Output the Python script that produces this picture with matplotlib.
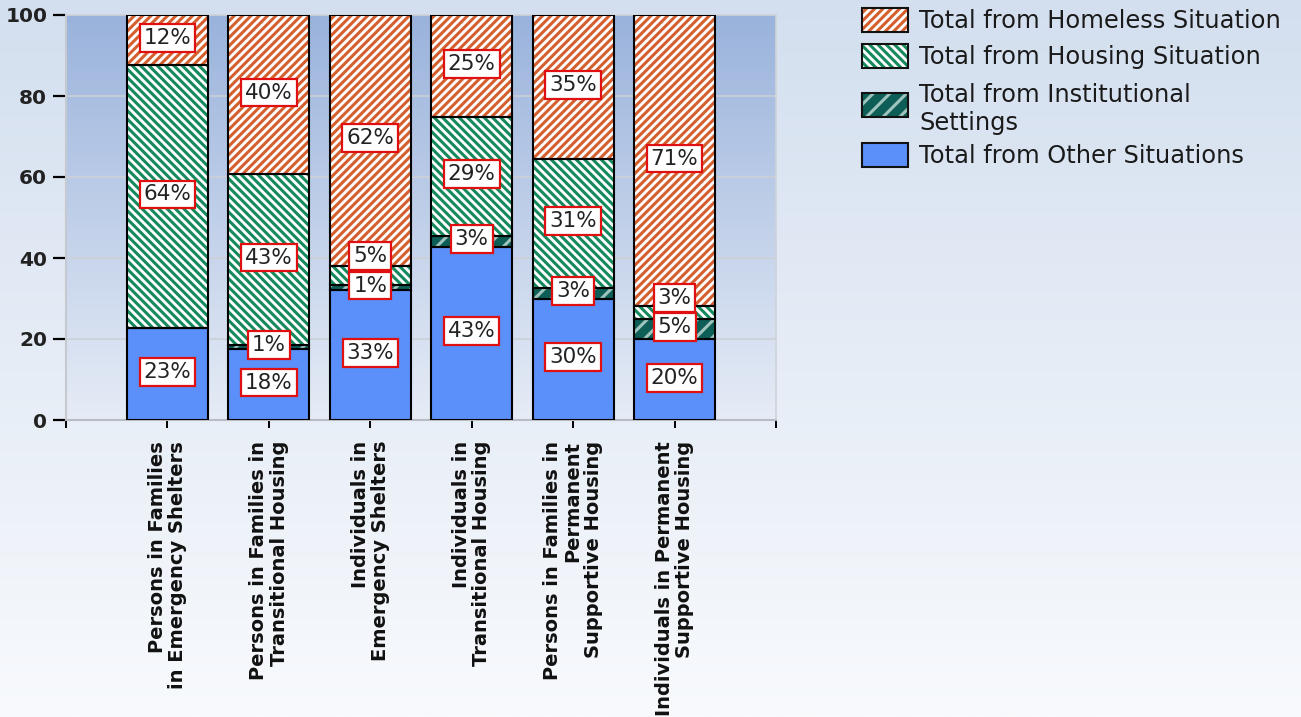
import numpy as np
import matplotlib
matplotlib.use("Agg")
import matplotlib.pyplot as plt
from matplotlib.patches import Rectangle

# ---- data ----
categories = [
    "Persons in Families\nin Emergency Shelters",
    "Persons in Families in\nTransitional Housing",
    "Individuals in\nEmergency Shelters",
    "Individuals in\nTransitional Housing",
    "Persons in Families in\nPermanent\nSupportive Housing",
    "Individuals in Permanent\nSupportive Housing",
]
series_names = [
    "Total from Other Situations",
    "Total from Institutional Settings",
    "Total from Housing Situation",
    "Total from Homeless Situation",
]
other = [22.8, 17.5, 32.1, 42.8, 30.0, 19.9]
institutional = [0.0, 1.0, 1.2, 2.7, 2.7, 5.0]
housing = [64.8, 42.2, 4.8, 29.4, 31.7, 3.2]
homeless = [12.4, 39.3, 61.9, 25.1, 35.6, 71.9]

label_other = [23, 18, 33, 43, 30, 20]
label_institutional = [None, 1, 1, 3, 3, 5]
label_housing = [64, 43, 5, 29, 31, 3]
label_homeless = [12, 40, 62, 25, 35, 71]

yticks = [0, 20, 40, 60, 80, 100]

# ---- figure ----
W, H = 1301, 717
dpi = 100
plt.rcParams["hatch.linewidth"] = 2.2
fig = plt.figure(figsize=(W / dpi, H / dpi), dpi=dpi)

# figure background gradient
bg = fig.add_axes([0, 0, 1, 1], zorder=-10)
top_c = np.array([0xd3, 0xdf, 0xef]) / 255
bot_c = np.array([0xf8, 0xfa, 0xfd]) / 255
t = np.linspace(0, 1, 256)[:, None]
g = (1 - t)[:, :, None] * top_c[None, None, :] + t[:, :, None] * bot_c[None, None, :]
bg.imshow(g, aspect="auto", extent=[0, 1, 0, 1])
bg.set_axis_off()

L, R, T, B = 66, 776, 15, 420
ax = fig.add_axes([L / W, 1 - B / H, (R - L) / W, (B - T) / H])
ax.set_zorder(1)

# plot area gradient
ptop = np.array([0x9a, 0xb3, 0xdc]) / 255
pbot = np.array([0xe6, 0xec, 0xf6]) / 255
pg = (1 - t)[:, :, None] * ptop[None, None, :] + t[:, :, None] * pbot[None, None, :]
ax.imshow(pg, aspect="auto", extent=[0, 7, 0, 100], zorder=0)

for y in yticks[1:-1]:
    ax.axhline(y, color="#cdd0d6", lw=1.2, zorder=1)

x = np.arange(1, 7)
width = 0.8

HOMELESS_HATCH = "////"
HOUSING_HATCH = "\\\\\\\\"
INST_HATCH = "//"

segs = [
    (other, dict(facecolor="#5b8ff9", hatch=None, hcolor=None)),
    (institutional, dict(facecolor="#0d5e56", hatch=INST_HATCH, hcolor="#9fc4bd")),
    (housing, dict(facecolor="white", hatch=HOUSING_HATCH, hcolor="#168a5c")),
    (homeless, dict(facecolor="white", hatch=HOMELESS_HATCH, hcolor="#d4602f")),
]

bottom = np.zeros(6)
for vals, st in segs:
    vals = np.array(vals, dtype=float)
    if st["hatch"]:
        ax.bar(x, vals, width, bottom=bottom, color=st["facecolor"],
               edgecolor=st["hcolor"], hatch=st["hatch"], linewidth=0, zorder=2)
    else:
        ax.bar(x, vals, width, bottom=bottom, color=st["facecolor"],
               linewidth=0, zorder=2)
    ax.bar(x, vals, width, bottom=bottom, fill=False, edgecolor="black",
           linewidth=1.5, zorder=3)
    bottom += vals

# data labels with simple upward collision avoidance
labels_all = [label_other, label_institutional, label_housing, label_homeless]
vals_all = [other, institutional, housing, homeless]
gap = 7.3
for i in range(6):
    base = 0.0
    prev = -100.0
    for vals, labs in zip(vals_all, labels_all):
        v = vals[i]
        lab = labs[i]
        c = base + v / 2 + 0.5
        base += v
        if lab is None:
            continue
        c = max(c, prev + gap)
        prev = c
        ax.text(x[i], c, f"{lab}%", ha="center", va="center", fontsize=15.5,
                color="#222222", zorder=5,
                bbox=dict(boxstyle="square,pad=0.18", fc="white", ec="#e01010", lw=1.6))

ax.set_xlim(0, 7)
ax.set_ylim(0, 100)
ax.set_yticks(yticks)
ax.set_yticklabels([str(v) for v in yticks], fontsize=14.5, fontweight="bold", color="#222222")
ax.set_xticks(range(0, 8))
ax.set_xticklabels([""] + categories + [""], rotation=90, fontsize=14,
                   fontweight="bold", color="#111111", va="top", ha="center",
                   multialignment="right", linespacing=1.1)
ax.tick_params(axis="y", length=9.5, width=1.6, color="black", pad=4)
ax.tick_params(axis="x", length=6, width=1.4, color="black", pad=9)
for s in ["top", "right"]:
    ax.spines[s].set_color("#cfd3d9")
    ax.spines[s].set_linewidth(1.2)
ax.spines["left"].set_color("#c6c9cf")
ax.spines["left"].set_linewidth(1.5)
ax.spines["bottom"].set_color("#b9bcc2")
ax.spines["bottom"].set_linewidth(1.5)

# ---- legend (manual, figure pixel coords) ----
leg_items = [
    (series_names[3], "white", HOMELESS_HATCH, "#d4602f", 20),
    (series_names[2], "white", HOUSING_HATCH, "#168a5c", 56),
    ("Total from Institutional\nSettings", "#0d5e56", "//", "#9fc4bd", 105),
    (series_names[0], "#5b8ff9", None, None, 155),
]
text_y = [20, 56, 108, 155]
lax = fig.add_axes([0, 0, 1, 1], zorder=2)
lax.set_xlim(0, W)
lax.set_ylim(H, 0)
lax.set_axis_off()
for (name, fc, hatch, hc, yc), ty in zip(leg_items, text_y):
    if hatch:
        lax.add_patch(Rectangle((862, yc - 12), 46, 24, facecolor=fc, edgecolor=hc,
                                hatch=hatch, linewidth=0))
    else:
        lax.add_patch(Rectangle((862, yc - 12), 46, 24, facecolor=fc, linewidth=0))
    lax.add_patch(Rectangle((862, yc - 12), 46, 24, fill=False, edgecolor="#111111", linewidth=1.5))
    lax.text(919, ty + 1, name, ha="left", va="center", fontsize=17.4, color="#1a1a1a",
             linespacing=1.2)

fig.savefig("out.png", dpi=dpi)
